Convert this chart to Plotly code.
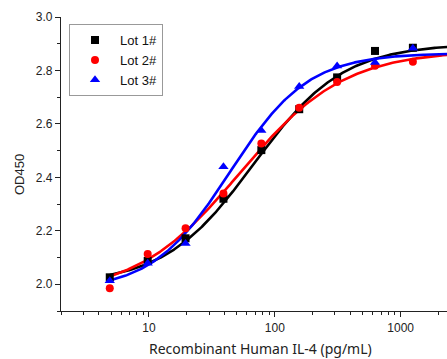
import numpy as np
import plotly.graph_objects as go

# ---- data ----
conc = [4.88, 9.77, 19.53, 39.06, 78.13, 156.25, 312.5, 625, 1250]
lot1 = [2.026, 2.087, 2.172, 2.320, 2.502, 2.655, 2.774, 2.873, 2.885]
lot2 = [1.985, 2.113, 2.210, 2.340, 2.527, 2.660, 2.757, 2.818, 2.833]
lot3 = [2.013, 2.079, 2.153, 2.440, 2.575, 2.740, 2.817, 2.830, 2.883]
series_names = ["Lot 1#", "Lot 2#", "Lot 3#"]

# 4-parameter logistic fit parameters of each lot's curve (bottom, top, EC50, slope)
fit_bottom = [2.000, 1.960, 1.975]
fit_top = [2.900, 2.875, 2.865]
fit_ec50 = [68.0, 53.0, 44.0]
fit_slope = [1.22, 1.05, 1.40]

colors = ["#000000", "#FF0000", "#0000FF"]
symbols = ["square", "circle", "triangle-up"]
ytick_vals = [2.0, 2.2, 2.4, 2.6, 2.8, 3.0]
xtick_vals = [10, 100, 1000]
xtick_text = ["10", "100", "1000"]


def four_pl(x, bottom, top, ec50, slope):
    return top + (bottom - top) / (1.0 + (x / ec50) ** slope)


fig = go.Figure()
xs = np.logspace(np.log10(conc[0]), np.log10(2500), 300)
for i, c in enumerate(colors):
    fig.add_trace(go.Scatter(
        x=xs, y=four_pl(xs, fit_bottom[i], fit_top[i], fit_ec50[i], fit_slope[i]),
        mode="lines", line=dict(color=c, width=2.6), showlegend=False, hoverinfo="skip"))
for name, vals, c, s in zip(series_names, [lot1, lot2, lot3], colors, symbols):
    fig.add_trace(go.Scatter(x=conc, y=vals, mode="markers", name=name,
                             marker=dict(color=c, symbol=s, size=8 if s != "triangle-up" else 9,
                                         line=dict(width=0))))

axis_font = dict(family="Liberation Sans, Arial, sans-serif", size=12, color="#222222")
fig.update_layout(
    width=447, height=359,
    margin=dict(l=61, r=0, t=17, b=48),
    paper_bgcolor="white", plot_bgcolor="white",
    showlegend=True,
    legend=dict(x=0.0207, y=0.976, xanchor="left", yanchor="top",
                bgcolor="white", bordercolor="#999999", borderwidth=1,
                font=dict(family="Liberation Sans, Arial, sans-serif", size=13, color="#111111"),
                itemwidth=40, tracegroupgap=0),
    annotations=[
        dict(text="OD450", xref="paper", yref="paper", x=-0.106, y=0.4626,
             textangle=-90, showarrow=False, xanchor="center", yanchor="middle",
             font=dict(family="Liberation Sans, Arial, sans-serif", size=13, color="#222222")),
        dict(text="Recombinant Human IL-4 (pg/mL)", xref="paper", yref="paper",
             x=(260 - 61) / 386, y=-(348 - 311) / 294, showarrow=False,
             xanchor="center", yanchor="middle",
             font=dict(family="Noto Sans, Open Sans, sans-serif", size=14, color="#222222")),
    ],
)
fig.update_xaxes(type="log", range=[np.log10(2), 3.368],
                 tickmode="array", tickvals=xtick_vals, ticktext=xtick_text,
                 ticks="outside", ticklen=5, tickwidth=1, tickcolor="#222222",
                 showline=True, linecolor="#222222", linewidth=1.2,
                 showgrid=False, zeroline=False, tickfont=axis_font,
                 minor=dict(ticks="outside", ticklen=3, tickwidth=1, tickcolor="#222222",
                            tickmode="array",
                            tickvals=[m * d for d in (1, 10, 100, 1000) for m in range(2, 10)],
                            showgrid=False))
fig.update_yaxes(range=[1.9, 3.0],
                 tickmode="array", tickvals=ytick_vals,
                 ticktext=[f"{v:.1f}" for v in ytick_vals],
                 ticks="outside", ticklen=5, tickwidth=1, tickcolor="#222222",
                 showline=True, linecolor="#222222", linewidth=1.2,
                 showgrid=False, zeroline=False, tickfont=axis_font,
                 minor=dict(ticks="outside", ticklen=3, tickwidth=1, tickcolor="#222222",
                            tickmode="array", tickvals=[1.9, 2.1, 2.3, 2.5, 2.7, 2.9],
                            showgrid=False))

fig.write_html("out.html", config={"displayModeBar": False},
               post_script="document.body.style.margin='0px';")
